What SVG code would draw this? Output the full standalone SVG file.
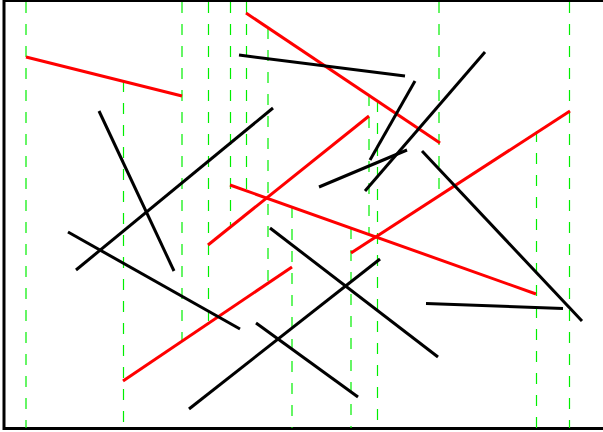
<svg xmlns="http://www.w3.org/2000/svg" width="603" height="432" viewBox="0 0 603 432">
<style>
.frame{fill:#fff;stroke:#000;stroke-width:3}
.ext{stroke:#00ee00;stroke-width:1.2;stroke-dasharray:11,11;fill:none}
.red{stroke:#ff0000;stroke-width:3;stroke-linecap:butt}
.blk{stroke:#000;stroke-width:3;stroke-linecap:butt}
</style>
<rect class="frame" x="4" y="0.5" width="620" height="428"/>
<g id="extensions">
<line class="ext" x1="26" y1="2" x2="26" y2="428"/>
<line class="ext" x1="123.5" y1="81" x2="123.5" y2="428"/>
<line class="ext" x1="182" y1="2" x2="182" y2="341"/>
<line class="ext" x1="208.5" y1="2" x2="208.5" y2="324"/>
<line class="ext" x1="230.5" y1="2" x2="230.5" y2="227"/>
<line class="ext" x1="246.5" y1="2" x2="246.5" y2="191"/>
<line class="ext" x1="268" y1="28" x2="268" y2="283"/>
<line class="ext" x1="292" y1="207" x2="292" y2="428"/>
<line class="ext" x1="351" y1="228" x2="351" y2="428"/>
<line class="ext" x1="369" y1="95" x2="369" y2="234"/>
<line class="ext" x1="377.5" y1="101" x2="377.5" y2="428"/>
<line class="ext" x1="439" y1="2" x2="439" y2="195"/>
<line class="ext" x1="536.5" y1="131" x2="536.5" y2="428"/>
<line class="ext" x1="569.5" y1="2" x2="569.5" y2="428"/>
</g>
<g id="connectors">
<g id="red-segments">
<line id="r1" class="red" x1="26" y1="57" x2="182" y2="96"/>
<line id="r2" class="red" x1="246" y1="13" x2="440" y2="143"/>
<line id="r3" class="red" x1="208" y1="245" x2="369" y2="116"/>
<line id="r4" class="red" x1="230" y1="185" x2="536" y2="294"/>
<line id="r5" class="red" x1="351" y1="253" x2="570" y2="111"/>
<line id="r6" class="red" x1="123" y1="381" x2="292" y2="267"/>
</g>
<g id="black-segments">
<line id="b1" class="blk" x1="239" y1="55" x2="405" y2="76"/>
<line id="b2" class="blk" x1="99" y1="111" x2="174" y2="271"/>
<line id="b3" class="blk" x1="76" y1="270" x2="273" y2="108"/>
<line id="b4" class="blk" x1="370" y1="160" x2="415" y2="81"/>
<line id="b5" class="blk" x1="365" y1="191" x2="485" y2="52"/>
<line id="b6" class="blk" x1="319" y1="187" x2="407" y2="150"/>
<line id="b7" class="blk" x1="422" y1="151" x2="582" y2="321"/>
<line id="b8" class="blk" x1="68" y1="232" x2="240" y2="329"/>
<line id="b9" class="blk" x1="270" y1="228" x2="438" y2="357"/>
<line id="b10" class="blk" x1="189" y1="409" x2="380" y2="259"/>
<line id="b11" class="blk" x1="256" y1="323" x2="358" y2="397"/>
<line id="b12" class="blk" x1="426" y1="303.5" x2="563" y2="308.5"/>
</g>
</g>
</svg>
